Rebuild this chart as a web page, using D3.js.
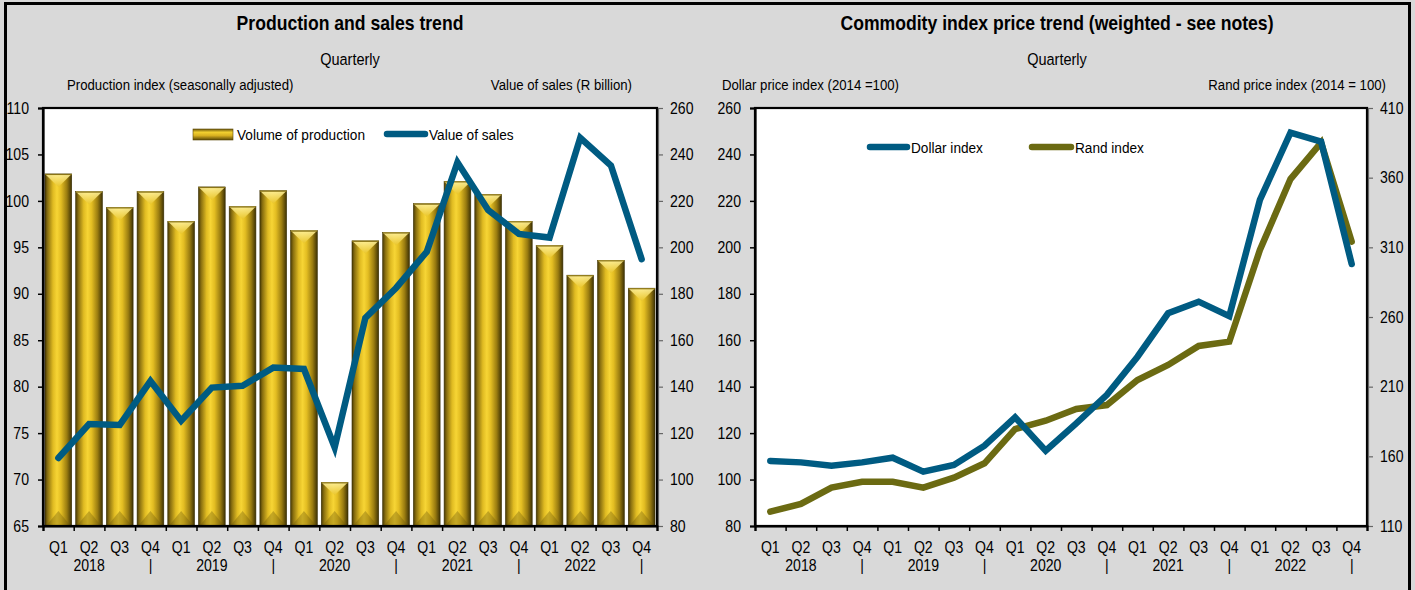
<!DOCTYPE html>
<html><head><meta charset="utf-8">
<script src="https://cdn.jsdelivr.net/npm/d3@7"></script>
<style>
html,body{margin:0;padding:0;background:#d9d9d9;}
svg{display:block;font-family:"Liberation Sans Narrow","Arial Narrow","Liberation Sans",Arial,sans-serif;}
</style></head>
<body><svg id="c" width="1415" height="590"></svg>
<script>
// ---- data ----
const quarters = ["Q1","Q2","Q3","Q4","Q1","Q2","Q3","Q4","Q1","Q2","Q3","Q4","Q1","Q2","Q3","Q4","Q1","Q2","Q3","Q4"];
const years = ["2018","2019","2020","2021","2022"];
const production = [102.9,101.0,99.3,101.0, 97.8,101.5,99.4,101.1, 96.8,69.7,95.7,96.6, 99.7,102.1,100.7,97.8, 95.2,92.0,93.6,90.6];
const salesValue = [109.3,123.9,123.5,142.4, 125.3,139.6,140.4,148.2, 147.6,113.9,169.6,182.5, 198.1,236.6,216.1,205.8, 204.2,247.2,235.2,194.9];
const dollarIndex = [108.0,107.4,106.0,107.4, 109.4,103.4,106.3,114.6, 126.8,112.4,124.2,136.5, 152.9,171.6,176.6,170.4, 220.4,249.4,245.5,192.8];
const randIndex = [120.3,125.8,137.5,141.8, 141.8,137.5,144.7,155.0, 179.6,185.6,194.0,196.8, 214.8,225.6,239.2,242.3, 308.1,359.0,385.1,314.1];
const prodTicks = [65,70,75,80,85,90,95,100,105,110];
const salesTicks = [80,100,120,140,160,180,200,220,240,260];
const dollarTicks = [80,100,120,140,160,180,200,220,240,260];
const randTicks = [110,160,210,260,310,360,410];

const svg = d3.select("#c");
const BLUE = "#005b82", OLIVE = "#6b6a12";
const NARROW = 0.88;

// background + outer border
svg.append("rect").attr("x",0).attr("y",0).attr("width",1415).attr("height",590).attr("fill","#d9d9d9");
svg.append("rect").attr("x",5.5).attr("y",3.5).attr("width",1404).attr("height",600).attr("fill","none").attr("stroke","#000").attr("stroke-width",3);

const defs = svg.append("defs");
const g1 = defs.append("linearGradient").attr("id","barGrad").attr("x1","0").attr("x2","1").attr("y1","0").attr("y2","0");
[[0,"#4a3b05"],[0.1,"#8a7010"],[0.3,"#e0bb22"],[0.45,"#f7d535"],[0.6,"#e3bd22"],[0.82,"#9a7c10"],[1,"#3e3204"]].forEach(s=>g1.append("stop").attr("offset",s[0]).attr("stop-color",s[1]));
const g2 = defs.append("linearGradient").attr("id","capGrad").attr("x1","0").attr("x2","0").attr("y1","0").attr("y2","1");
[[0,"#fff2a0"],[1,"#e9c52a"]].forEach(s=>g2.append("stop").attr("offset",s[0]).attr("stop-color",s[1]));
const g3 = defs.append("linearGradient").attr("id","legGrad").attr("x1","0").attr("x2","0").attr("y1","0").attr("y2","1");
[[0,"#6b560a"],[0.3,"#f2d030"],[0.6,"#d8b020"],[1,"#5a4806"]].forEach(s=>g3.append("stop").attr("offset",s[0]).attr("stop-color",s[1]));

function text(x,y,s,opt={}){
  return svg.append("text").attr("transform",`translate(${x},${y}) scale(${NARROW},1)`).text(s)
    .attr("font-size",opt.size||15).attr("font-weight",opt.bold?"bold":"normal")
    .attr("text-anchor",opt.anchor||"start").attr("fill","#000");
}
function narrowTicks(sel){
  sel.selectAll("text").attr("font-size",16).attr("fill","#000").attr("font-family",null)
    .each(function(){
      const t=d3.select(this);
      const x=+t.attr("x")||0;
      t.attr("transform",`translate(${x},0) scale(${NARROW},1)`).attr("x",0);
    });
}

function panel(cfg){
  const {x0,x1,y0,y1} = cfg;
  const xb = d3.scaleBand().domain(d3.range(quarters.length)).range([x0,x1]).paddingInner(0.13).paddingOuter(0.065);
  const xc = i => xb(i)+xb.bandwidth()/2;
  const yL = d3.scaleLinear().domain(cfg.leftDomain).range([y1,y0]);
  const yR = d3.scaleLinear().domain(cfg.rightDomain).range([y1,y0]);
  text(cfg.titleX,30,cfg.title,{bold:true,size:20,anchor:"middle"});
  text(cfg.titleX,65,"Quarterly",{size:16.5,anchor:"middle"});
  text(cfg.lLabelX,90,cfg.leftLabel,{size:15});
  text(cfg.rLabelX,90,cfg.rightLabel,{size:15,anchor:"end"});
  svg.append("rect").attr("x",x0).attr("y",y0).attr("width",x1-x0).attr("height",y1-y0).attr("fill","#fff");
  return {xb,xc,yL,yR};
}

function frame(cfg,s){
  const {x0,x1,y0,y1} = cfg;
  svg.append("rect").attr("x",x0).attr("y",y0).attr("width",x1-x0).attr("height",y1-y0).attr("fill","none").attr("stroke","#000").attr("stroke-width",2.2);
  const la = svg.append("g").attr("transform",`translate(${x0},0)`).call(d3.axisLeft(s.yL).tickValues(cfg.leftTicks).tickSize(5).tickPadding(9).tickFormat(d3.format("d")));
  la.select(".domain").attr("stroke","#000").attr("stroke-width",2.2);
  la.selectAll("line").attr("stroke","#000").attr("stroke-width",1.5);
  narrowTicks(la);
  const ra = svg.append("g").attr("transform",`translate(${x1+1},0)`).call(d3.axisRight(s.yR).tickValues(cfg.rightTicks).tickSize(5).tickPadding(7).tickFormat(d3.format("d")));
  ra.select(".domain").attr("stroke","#666").attr("stroke-width",1.2);
  ra.selectAll("line").attr("stroke","#666").attr("stroke-width",1.2);
  narrowTicks(ra);
  const xl = d3.scaleLinear().domain([0,quarters.length]).range([x0,x1]);
  const ba = svg.append("g").attr("transform",`translate(0,${y1})`).call(d3.axisBottom(xl).tickValues(d3.range(quarters.length+1)).tickSize(5).tickFormat(""));
  ba.select(".domain").attr("stroke","#000").attr("stroke-width",2.2);
  ba.selectAll("line").attr("stroke","#000").attr("stroke-width",1.5);
  const qa = svg.append("g").attr("transform",`translate(0,${y1})`).call(d3.axisBottom(s.xb).tickSize(0).tickPadding(16).tickFormat(i=>quarters[i]));
  qa.select(".domain").remove();
  narrowTicks(qa);
  const row2 = quarters.map((q,i)=> q==="Q2" ? years[Math.floor(i/4)] : (q==="Q4" ? "|" : ""));
  const ya = svg.append("g").attr("transform",`translate(0,${y1})`).call(d3.axisBottom(s.xb).tickSize(0).tickPadding(34).tickFormat(i=>row2[i]));
  ya.select(".domain").remove();
  narrowTicks(ya);
}

function lineSeries(s,vals,scale,color){
  svg.append("path").datum(vals).attr("fill","none").attr("stroke",color).attr("stroke-width",6.5)
    .attr("stroke-linejoin","miter").attr("stroke-linecap","round")
    .attr("d",d3.line().x((d,i)=>s.xc(i)).y(d=>scale(d)));
}

// ---------- Left panel ----------
const L = {x0:43,x1:657,y0:108,y1:526,leftDomain:[65,110],rightDomain:[80,260],leftTicks:prodTicks,rightTicks:salesTicks,
  title:"Production and sales trend",titleX:350,leftLabel:"Production index (seasonally adjusted)",lLabelX:67,
  rightLabel:"Value of sales (R billion)",rLabelX:632};
const sL = panel(L);
const bw = sL.xb.bandwidth();
const bars = svg.append("g").selectAll("g").data(production).join("g");
bars.append("rect").attr("x",(d,i)=>sL.xb(i)).attr("y",d=>sL.yL(d)).attr("width",bw).attr("height",d=>L.y1-sL.yL(d))
  .attr("fill","url(#barGrad)").attr("stroke","#3a3004").attr("stroke-width",0.6);
bars.append("path").attr("d",(d,i)=>{const x=sL.xb(i),y=sL.yL(d);return `M${x},${y}L${x+bw},${y}L${x+bw/2},${y+13}Z`;})
  .attr("fill","url(#capGrad)").attr("opacity",0.9);
bars.append("path").attr("d",(d,i)=>{const x=sL.xb(i),y=L.y1;return `M${x+1},${y}L${x+bw/2},${y-15}L${x+bw-1},${y}Z`;})
  .attr("fill","#6b5508").attr("opacity",0.35);
bars.append("line").attr("x1",(d,i)=>sL.xb(i)).attr("x2",(d,i)=>sL.xb(i)+bw).attr("y1",d=>sL.yL(d)+0.5).attr("y2",d=>sL.yL(d)+0.5)
  .attr("stroke","#8a7416").attr("stroke-width",1.2);
lineSeries(sL,salesValue,sL.yR,BLUE);
frame(L,sL);
svg.append("rect").attr("x",193).attr("y",129).attr("width",40).attr("height",11).attr("fill","url(#legGrad)").attr("stroke","#5a4806").attr("stroke-width",0.6);
text(237,140,"Volume of production",{size:15.5});
svg.append("line").attr("x1",387).attr("x2",425).attr("y1",134).attr("y2",134).attr("stroke",BLUE).attr("stroke-width",6.5).attr("stroke-linecap","round");
text(429,140,"Value of sales",{size:15.5});

// ---------- Right panel ----------
const R = {x0:755,x1:1367,y0:108,y1:526,leftDomain:[80,260],rightDomain:[110,410],leftTicks:dollarTicks,rightTicks:randTicks,
  title:"Commodity index price trend (weighted - see notes)",titleX:1057,leftLabel:"Dollar price index (2014 =100)",lLabelX:722,
  rightLabel:"Rand price index (2014 = 100)",rLabelX:1386};
const sR = panel(R);
lineSeries(sR,randIndex,sR.yR,OLIVE);
lineSeries(sR,dollarIndex,sR.yL,BLUE);
frame(R,sR);
svg.append("line").attr("x1",870).attr("x2",907).attr("y1",147).attr("y2",147).attr("stroke",BLUE).attr("stroke-width",6.5).attr("stroke-linecap","round");
text(911,153,"Dollar index",{size:15.5});
svg.append("line").attr("x1",1032).attr("x2",1071).attr("y1",147).attr("y2",147).attr("stroke",OLIVE).attr("stroke-width",6.5).attr("stroke-linecap","round");
text(1075,153,"Rand index",{size:15.5});
</script></body></html>
